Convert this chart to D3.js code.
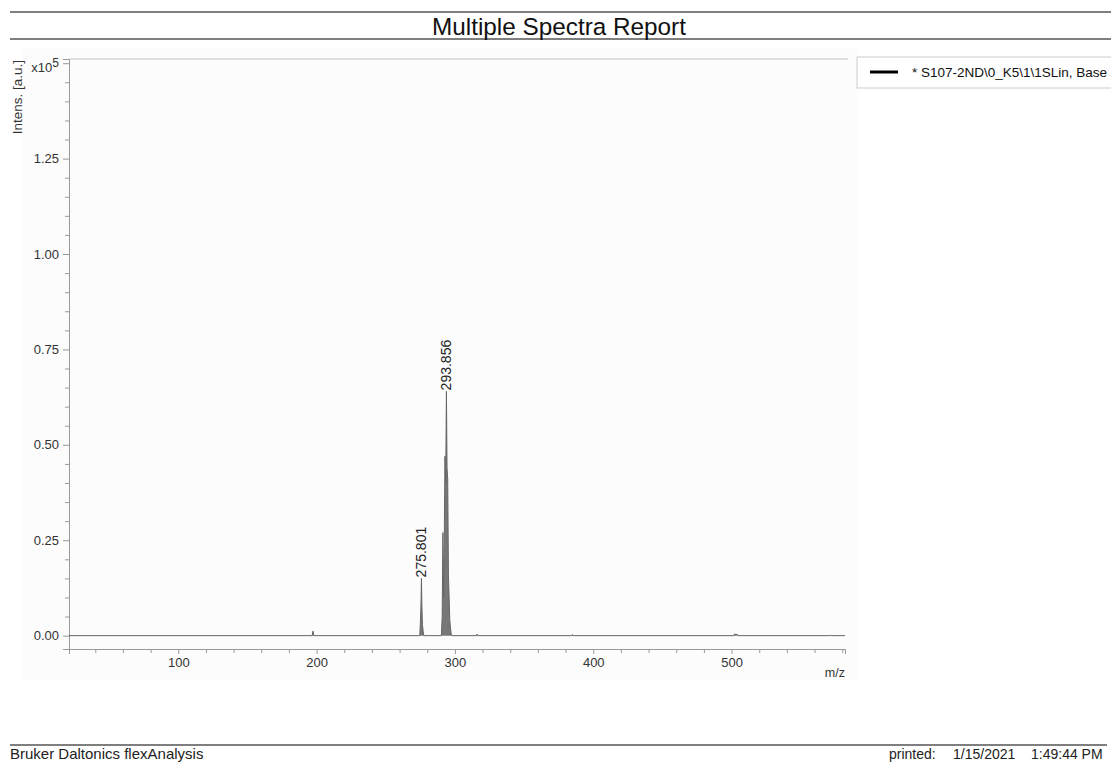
<!DOCTYPE html>
<html>
<head>
<meta charset="utf-8">
<script src="https://cdn.jsdelivr.net/npm/d3@7"></script>
<style>
  html, body { margin: 0; padding: 0; background: #fff; }
  svg { display: block; font-family: "Liberation Sans", Arial, sans-serif; }
</style>
</head>
<body>
<svg id="chart" width="1111" height="762"></svg>
<script>
// ---- data (intensity in units of 10^5 a.u.) ----
const mz = [21, 196.8, 197.4, 198.0, 274.6, 275.1, 275.5, 275.801, 276.1, 276.5, 277.0, 277.5,
            290.2, 290.8, 291.3, 291.8, 292.3, 292.8, 293.3, 293.856, 294.3, 294.8, 295.3, 295.8,
            296.3, 296.8, 297.3, 298.0, 315.5, 316.0, 316.5, 384.5, 385.0, 385.5,
            501.5, 502.3, 503.0, 503.8, 504.5, 570.5, 571.0, 571.5, 582];
const intensity = [0, 0, 0.012, 0, 0, 0.04, 0.088, 0.15, 0.08, 0.03, 0.012, 0,
                   0, 0.05, 0.27, 0.10, 0.25, 0.47, 0.40, 0.64, 0.44, 0.41, 0.16, 0.10,
                   0.04, 0.02, 0.005, 0, 0, 0.004, 0, 0, 0.003, 0,
                   0, 0.005, 0.002, 0.004, 0, 0, 0.002, 0, 0];
const peakLabels = [275.801, 293.856];
const peakHeights = [0.15, 0.64];
const xMajorTicks = [100, 200, 300, 400, 500];
const yMajorTicks = [0, 0.25, 0.5, 0.75, 1.0, 1.25, 1.5];
const yTickLabels = ["0.00", "0.25", "0.50", "0.75", "1.00", "1.25", "x10^5"];
const legendText = "* S107-2ND\\0_K5\\1\\1SLin, Base";
const title = "Multiple Spectra Report";
const footerLeft = "Bruker Daltonics flexAnalysis";
const footerRight = ["printed:", "1/15/2021", "1:49:44 PM"];

const svg = d3.select("#chart");
const W = 1111;
const FONT = "Liberation Sans, Arial, sans-serif";

// faint plot background
svg.append("rect").attr("x", 22).attr("y", 48).attr("width", 836).attr("height", 632).attr("fill", "#fcfcfc");

// header
svg.append("line").attr("x1", 10).attr("x2", W).attr("y1", 12).attr("y2", 12).attr("stroke", "#555").attr("stroke-width", 1.5);
svg.append("line").attr("x1", 10).attr("x2", W).attr("y1", 39).attr("y2", 39).attr("stroke", "#555").attr("stroke-width", 1.5);
svg.append("text").attr("x", 559).attr("y", 35).attr("text-anchor", "middle")
  .attr("font-size", 24.3).attr("fill", "#111").text(title);

// scales
const x = d3.scaleLinear().domain([21, 582]).range([69, 845]);
const y = d3.scaleLinear().domain([-0.035, 1.511]).range([649, 59]);

// frame: top border
svg.append("line").attr("x1", 69).attr("x2", 848).attr("y1", 59).attr("y2", 59).attr("stroke", "#c4c4c4");

// y axis
const yMinor = d3.range(0.05, 1.5, 0.05).filter(v => Math.abs(v / 0.25 - Math.round(v / 0.25)) > 1e-6);
const gyMinor = svg.append("g").attr("transform", "translate(69,0)")
  .call(d3.axisLeft(y).tickValues(yMinor).tickSize(4).tickFormat(""));
gyMinor.select(".domain").remove();
const gy = svg.append("g").attr("transform", "translate(69,0)")
  .call(d3.axisLeft(y).tickValues(yMajorTicks).tickSize(6).tickPadding(4).tickFormat((d, i) => yTickLabels[i]));
gy.select(".domain").attr("stroke", "#999");
svg.selectAll("g .tick line").attr("stroke", "#999");
gy.selectAll(".tick text").attr("font-size", 13).attr("fill", "#333").attr("font-family", FONT);
gy.selectAll(".tick text").filter((d, i) => yTickLabels[i] === "x10^5").each(function() {
  const t = d3.select(this);
  t.text(null);
  t.attr("dy", "0.65em");
  t.append("tspan").text("x10");
  t.append("tspan").attr("dy", "-0.45em").attr("font-size", 12).text("5");
});

// y axis title
svg.append("text").attr("transform", "translate(22,60) rotate(-90)").attr("text-anchor", "end")
  .attr("font-size", 13.5).attr("fill", "#333").text("Intens. [a.u.]");

// x axis
const xMinor = d3.range(40, 581, 20).filter(v => v % 100 !== 0);
const gxMinor = svg.append("g").attr("transform", "translate(0,649)")
  .call(d3.axisBottom(x).tickValues(xMinor).tickSize(4).tickFormat(""));
gxMinor.select(".domain").remove();
gxMinor.selectAll(".tick line").attr("stroke", "#999");
const gx = svg.append("g").attr("transform", "translate(0,649)")
  .call(d3.axisBottom(x).tickValues(xMajorTicks).tickSize(5).tickPadding(4).tickFormat(d3.format("d")));
gx.select(".domain").attr("stroke", "#999");
gx.selectAll(".tick line").attr("stroke", "#999");
gx.selectAll(".tick text").attr("font-size", 13).attr("fill", "#333").attr("font-family", FONT);
svg.append("text").attr("x", 845).attr("y", 677).attr("text-anchor", "end")
  .attr("font-size", 12.5).attr("fill", "#333").text("m/z");

// spectrum
const pts = mz.map((m, i) => ({ m, v: intensity[i] }));
svg.append("path").datum(pts)
  .attr("d", d3.area().x(d => x(d.m)).y0(y(0)).y1(d => y(d.v)))
  .attr("fill", "#777");
svg.append("path").datum(pts)
  .attr("d", d3.line().x(d => x(d.m)).y(d => y(d.v)))
  .attr("fill", "none").attr("stroke", "#666").attr("stroke-width", 1);

// peak labels
peakLabels.forEach((p, i) => {
  svg.append("text")
    .attr("transform", `translate(${x(p)},${y(peakHeights[i]) - 1}) rotate(-90)`)
    .attr("text-anchor", "start").attr("dy", "0.35em")
    .attr("font-size", 14).attr("fill", "#222").text(p.toFixed(3));
});

// legend
const leg = svg.append("g");
leg.append("rect").attr("x", 857).attr("y", 57).attr("width", 300).attr("height", 31)
  .attr("fill", "#fff").attr("stroke", "#ccc");
leg.append("line").attr("x1", 870).attr("x2", 898).attr("y1", 72).attr("y2", 72)
  .attr("stroke", "#000").attr("stroke-width", 3);
leg.append("text").attr("x", 912).attr("y", 77).attr("font-size", 13.5).attr("fill", "#111").text(legendText);

// footer
svg.append("line").attr("x1", 10).attr("x2", 1107).attr("y1", 745).attr("y2", 745).attr("stroke", "#555").attr("stroke-width", 1.5);
svg.append("text").attr("x", 10).attr("y", 759).attr("font-size", 15).attr("fill", "#222").text(footerLeft);
const fx = [889, 953, 1031];
footerRight.forEach((t, i) => {
  svg.append("text").attr("x", fx[i]).attr("y", 759).attr("font-size", 14).attr("fill", "#222").text(t);
});
</script>
</body>
</html>
